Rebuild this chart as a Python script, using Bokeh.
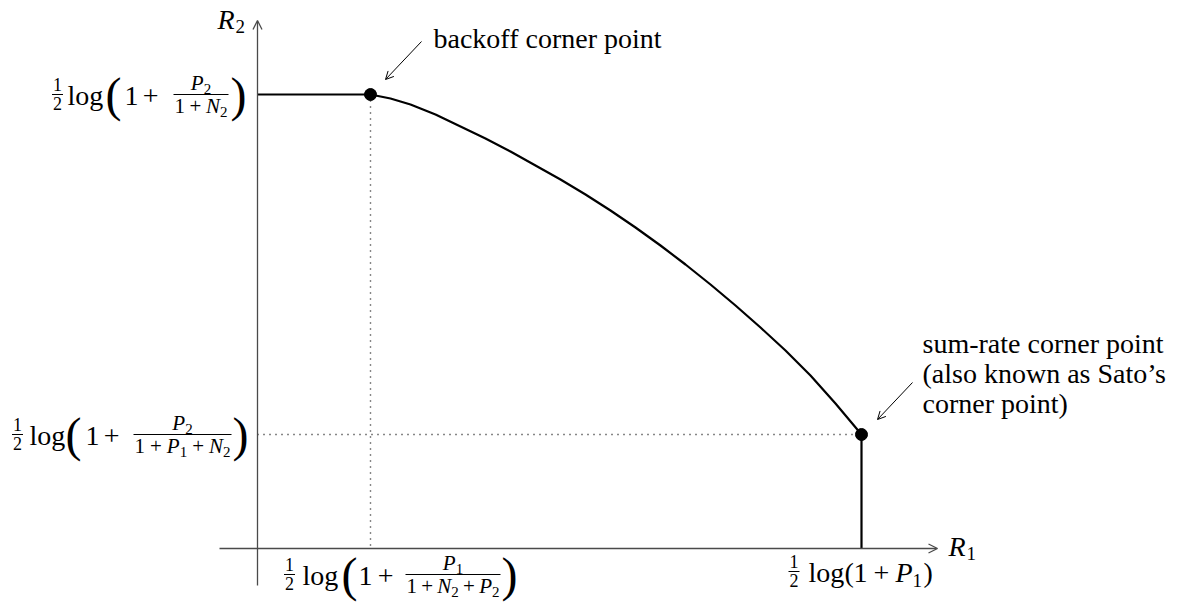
from bokeh.plotting import figure
from bokeh.models import Range1d, Label, Arrow, OpenHead
from bokeh.embed import file_html
from bokeh.resources import INLINE

# Boundary of the achievable rate region (R1, R2), from the backoff corner to Sato's corner
curve_r1 = [1.13, 1.33, 1.53, 1.78, 2.03, 2.28, 2.53, 2.78, 3.03, 3.28, 3.53,
            3.78, 4.03, 4.28, 4.53, 4.78, 5.03, 5.28, 5.53, 5.78, 6.04]
curve_r2 = [4.54, 4.50, 4.44, 4.34, 4.22, 4.10, 3.97, 3.83, 3.69, 3.54, 3.38,
            3.21, 3.03, 2.84, 2.64, 2.43, 2.21, 1.98, 1.73, 1.45, 1.14]

# Corner points
R1_BACKOFF, R2_BACKOFF = 1.13, 4.54   # backoff corner point
R1_SATO, R2_SATO = 6.04, 1.14         # sum-rate (Sato's) corner point

# Extents of the drawn coordinate axes
X_AXIS = (-0.38, 6.80)
Y_AXIS = (-0.37, 5.28)

UNIT = 100.0          # screen pixels per rate unit on both axes
SERIF = "Liberation Serif"
INK = "black"
AXIS_COLOR = "#4a4a4a"
DROP = 0.31           # label anchor sits this many ems below the glyph baseline

M, S, H, BIG, SUB = 28, 21, 18, 48, 19   # font sizes: main, script, 1/2, big paren, subscript

p = figure(width=1180, height=602, x_range=Range1d(-2.57, 9.23),
           y_range=Range1d(-0.54, 5.48), x_axis_type=None, y_axis_type=None,
           toolbar_location=None, output_backend="svg", min_border=0)
p.grid.visible = False
p.outline_line_color = None
p.background_fill_color = "white"
p.border_fill_color = "white"

# ---- axes with arrow heads ----
p.add_layout(Arrow(end=OpenHead(size=9, line_width=1.3, line_color=AXIS_COLOR),
                   x_start=X_AXIS[0], y_start=0, x_end=X_AXIS[1], y_end=0,
                   line_width=1.3, line_color=AXIS_COLOR))
p.add_layout(Arrow(end=OpenHead(size=9, line_width=1.3, line_color=AXIS_COLOR),
                   x_start=0, y_start=Y_AXIS[0], x_end=0, y_end=Y_AXIS[1],
                   line_width=1.3, line_color=AXIS_COLOR))

# ---- dotted guides to the axes ----
p.line([R1_BACKOFF, R1_BACKOFF], [R2_BACKOFF, 0], line_color="#111111",
       line_width=1.4, line_dash="1 5")
p.line([0, R1_SATO], [R2_SATO, R2_SATO], line_color="#111111",
       line_width=1.4, line_dash="1 5")

# ---- region boundary: plateau, curved part, vertical drop ----
p.line([0] + curve_r1 + [R1_SATO], [R2_BACKOFF] + curve_r2 + [0],
       line_color=INK, line_width=2.2, line_join="round")
p.scatter([R1_BACKOFF, R1_SATO], [R2_BACKOFF, R2_SATO], size=12,
          fill_color=INK, line_color=INK)

# ---- text helpers (offsets in pixels, dy measured downwards to the baseline) ----
W_UP = {'1': .5, '2': .5, '+': .564, 'l': .278, 'o': .5, 'g': .5, '(': .333, ')': .333}
W_IT = {'P': .611, 'N': .667, 'R': .611}


def put(ax, ay, text, dx, dy, size, kind="up", align="left"):
    p.add_layout(Label(x=ax, y=ay, x_offset=dx, y_offset=-(dy - DROP * size),
                       text=text, text_font=SERIF, text_font_size=f"{size}px",
                       text_font_style="italic" if kind == "it" else "normal",
                       text_align=align, text_baseline="alphabetic",
                       text_color=INK))


def bar(ax, ay, dx0, dx1, dy):
    p.segment(x0=[ax + dx0 / UNIT], y0=[ay - dy / UNIT],
              x1=[ax + dx1 / UNIT], y1=[ay - dy / UNIT],
              line_color=INK, line_width=1)


def tok_w(text, kind, size):
    table = W_IT if kind == "it" else W_UP
    sz = round(size * 0.7) if kind == "sub" else size
    return sum(table.get(c, .5) for c in text) * sz


def seq(ax, ay, tokens, left, right, base, size):
    widths = [tok_w(t, k, size) for t, k in tokens]
    weights = [1 if (tokens[i][0] == "+" or tokens[i + 1][0] == "+") else 0
               for i in range(len(tokens) - 1)]
    extra = max(0.0, (right - left) - sum(widths))
    wsum = sum(weights)
    x = left if wsum else left + extra / 2
    for i, (t, k) in enumerate(tokens):
        if k == "sub":
            put(ax, ay, t, x, base + 0.2 * size, round(size * 0.7))
        else:
            put(ax, ay, t, x, base, size, kind=k)
        x += widths[i]
        if i < len(weights) and wsum:
            x += extra * weights[i] / wsum


def seq_center(ax, ay, tokens, cx, base, size):
    w = sum(tok_w(t, k, size) for t, k in tokens)
    seq(ax, ay, tokens, cx - w / 2, cx + w / 2, base, size)


def half(ax, ay, cx, B):
    put(ax, ay, "1", cx, B - 14, H, align="center")
    put(ax, ay, "2", cx, B + 5, H, align="center")
    bar(ax, ay, cx - 5.5, cx + 5.5, B - 10)


def frac(ax, ay, num, den, x0, x1, B):
    bar(ax, ay, x0, x1, B - 10)
    seq_center(ax, ay, num, (x0 + x1) / 2, B - 15, S)
    seq(ax, ay, den, x0 + 1, x1 - 1, B + 8, S)


def log_of_fraction(ax, ay, B, x_half, x_log, x_open, x_one, x_plus_end,
                    num, den, x_bar0, x_bar1, x_close):
    half(ax, ay, x_half, B)
    put(ax, ay, "log", x_log, B, M)
    put(ax, ay, "(", x_open, B + 5, BIG)
    seq(ax, ay, [("1", "up"), ("+", "up")], x_one, x_plus_end, B, M)
    frac(ax, ay, num, den, x_bar0, x_bar1, B)
    put(ax, ay, ")", x_close, B + 5, BIG)


# R2 tick labels
log_of_fraction(0, R2_BACKOFF, 10, -200, -190, -152, -133, -99,
                [("P", "it"), ("2", "sub")],
                [("1", "up"), ("+", "up"), ("N", "it"), ("2", "sub")],
                -84, -29, -27)
log_of_fraction(0, R2_SATO, 10, -240, -228, -192, -172, -138,
                [("P", "it"), ("2", "sub")],
                [("1", "up"), ("+", "up"), ("P", "it"), ("1", "sub"),
                 ("+", "up"), ("N", "it"), ("2", "sub")],
                -124, -26, -25)

# R1 tick labels
log_of_fraction(R1_BACKOFF, 0, 36, -81, -68, -29, -12, 23,
                [("P", "it"), ("1", "sub")],
                [("1", "up"), ("+", "up"), ("N", "it"), ("2", "sub"),
                 ("+", "up"), ("P", "it"), ("2", "sub")],
                35, 130, 131)

B4 = 33
half(R1_SATO, 0, -67.5, B4)
put(R1_SATO, 0, "log", -53, B4, M)
put(R1_SATO, 0, "(", -17, B4, M)
put(R1_SATO, 0, "1", -8, B4, M)
put(R1_SATO, 0, "+", 12, B4, M)
put(R1_SATO, 0, "P", 34, B4, M, kind="it")
put(R1_SATO, 0, "1", 51, B4 + 5, SUB)
put(R1_SATO, 0, ")", 62, B4, M)

# axis names
put(0, Y_AXIS[1], "R", -40, 8, M, kind="it")
put(0, Y_AXIS[1], "2", -22, 12, SUB)
put(X_AXIS[1], 0, "R", 11, 7, M, kind="it")
put(X_AXIS[1], 0, "1", 29, 11, SUB)

# ---- annotations ----
put(R1_BACKOFF, R2_BACKOFF, "backoff corner point", 63, -47, M)
p.add_layout(Arrow(end=OpenHead(size=8, line_width=1, line_color=INK),
                   x_start=R1_BACKOFF + 0.51, y_start=R2_BACKOFF + 0.53,
                   x_end=R1_BACKOFF + 0.15, y_end=R2_BACKOFF + 0.15,
                   line_width=1, line_color=INK))

for dy, line in zip([-82, -52, -22],
                    ["sum-rate corner point", "(also known as Sato\u2019s", "corner point)"]):
    put(R1_SATO, R2_SATO, line, 61, dy, M)
p.add_layout(Arrow(end=OpenHead(size=8, line_width=1, line_color=INK),
                   x_start=R1_SATO + 0.51, y_start=R2_SATO + 0.52,
                   x_end=R1_SATO + 0.16, y_end=R2_SATO + 0.15,
                   line_width=1, line_color=INK))

open("out.html", "w").write(file_html(p, INLINE))
